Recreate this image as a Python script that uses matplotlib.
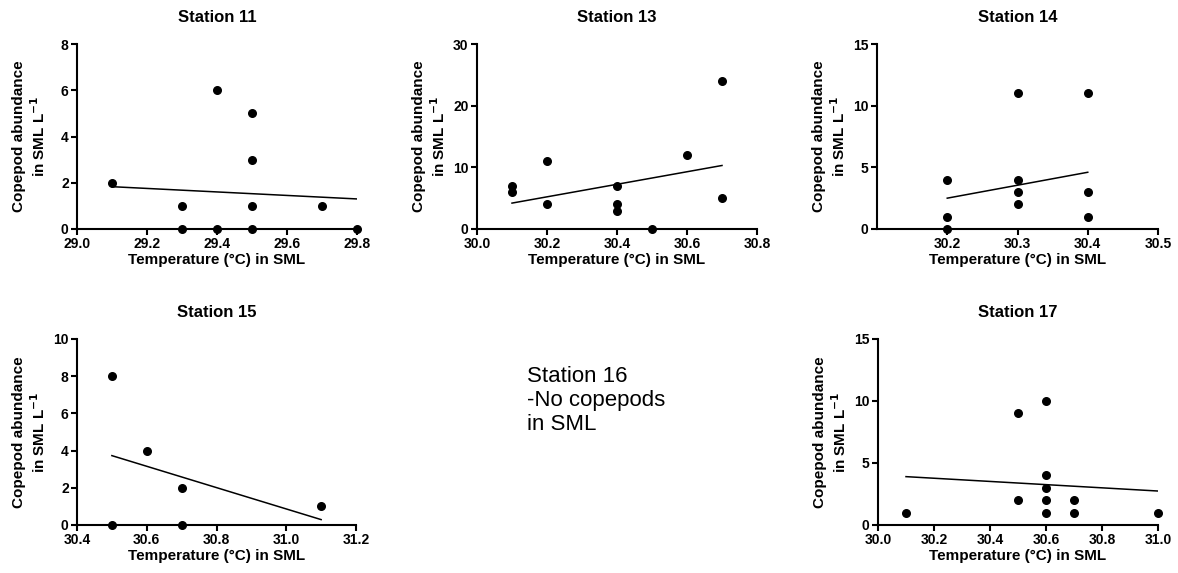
import matplotlib
matplotlib.use('Agg')
import matplotlib.pyplot as plt
import numpy as np

plt.rcParams['font.family'] = ['Liberation Sans', 'DejaVu Sans']

# Station data: temperature (°C) in SML and copepod abundance (ind. L-1)
st11_temp = [29.1, 29.3, 29.3, 29.4, 29.4, 29.5, 29.5, 29.5, 29.5, 29.7, 29.8]
st11_abun = [2, 1, 0, 6, 0, 5, 3, 1, 0, 1, 0]

st13_temp = [30.1, 30.1, 30.2, 30.2, 30.4, 30.4, 30.4, 30.5, 30.6, 30.7, 30.7]
st13_abun = [7, 6, 11, 4, 7, 4, 3, 0, 12, 24, 5]

st14_temp = [30.2, 30.2, 30.2, 30.3, 30.3, 30.3, 30.3, 30.4, 30.4, 30.4]
st14_abun = [4, 1, 0, 11, 4, 3, 2, 11, 3, 1]

st15_temp = [30.5, 30.5, 30.6, 30.7, 30.7, 31.1]
st15_abun = [8, 0, 4, 2, 0, 1]

st17_temp = [30.1, 30.5, 30.5, 30.6, 30.6, 30.6, 30.6, 30.6, 30.7, 30.7, 31.0]
st17_abun = [1, 9, 2, 10, 4, 3, 2, 1, 2, 1, 1]

# Regression line values (at min and max temperature)
st11_fit = [1.83, 1.30]
st13_fit = [4.2, 10.3]
st14_fit = [2.5, 4.6]
st15_fit = [3.73, 0.29]
st17_fit = [3.9, 2.74]

# Axis ranges and ticks
st11_xlim, st11_xticks = (29.0, 29.8), [29.0, 29.2, 29.4, 29.6, 29.8]
st13_xlim, st13_xticks = (30.0, 30.8), [30.0, 30.2, 30.4, 30.6, 30.8]
st14_xlim, st14_xticks = (30.1, 30.5), [30.2, 30.3, 30.4, 30.5]
st15_xlim, st15_xticks = (30.4, 31.2), [30.4, 30.6, 30.8, 31.0, 31.2]
st17_xlim, st17_xticks = (30.0, 31.0), [30.0, 30.2, 30.4, 30.6, 30.8, 31.0]

st11_yticks = [0, 2, 4, 6, 8]
st13_yticks = [0, 10, 20, 30]
st14_yticks = [0, 5, 10, 15]
st15_yticks = [0, 2, 4, 6, 8, 10]
st17_yticks = [0, 5, 10, 15]

W, H = 1178, 573
fig = plt.figure(figsize=(W / 100, H / 100), dpi=100)


def px_axes(left, right, top, bottom):
    return fig.add_axes([left / W, 1 - bottom / H, (right - left) / W, (bottom - top) / H])


def station_plot(ax, title, temp, abun, fit, xlim, xticks, yticks):
    ax.scatter(temp, abun, s=30, color='black', zorder=3, clip_on=False)
    ax.plot([min(temp), max(temp)], fit, color='black', lw=1.1)
    ax.set_xlim(*xlim)
    ax.set_ylim(yticks[0], yticks[-1])
    ax.set_xticks(xticks)
    ax.set_xticklabels(['%.1f' % t for t in xticks])
    ax.set_yticks(yticks)
    for side in ['top', 'right']:
        ax.spines[side].set_visible(False)
    for side in ['left', 'bottom']:
        ax.spines[side].set_linewidth(1.5)
    ax.tick_params(direction='out', length=4, width=1.5, labelsize=10, pad=2)
    for lab in ax.get_xticklabels() + ax.get_yticklabels():
        lab.set_fontweight('bold')
    ax.set_title(title, fontsize=12, fontweight='bold', pad=16)
    ax.set_xlabel('Temperature (°C) in SML', fontsize=11, fontweight='bold', labelpad=1)
    ax.set_ylabel('Copepod abundance\nin SML L$^{\\mathbf{-1}}$', fontsize=11,
                  fontweight='bold')
    w = ax.get_position().width * W
    ax.yaxis.set_label_coords(-29 / w, 0.5)


ax11 = px_axes(77, 357, 44, 229)
station_plot(ax11, 'Station 11', st11_temp, st11_abun, st11_fit, st11_xlim, st11_xticks, st11_yticks)

ax13 = px_axes(477, 757, 44, 229)
station_plot(ax13, 'Station 13', st13_temp, st13_abun, st13_fit, st13_xlim, st13_xticks, st13_yticks)

ax14 = px_axes(877, 1158, 44, 229)
station_plot(ax14, 'Station 14', st14_temp, st14_abun, st14_fit, st14_xlim, st14_xticks, st14_yticks)

ax15 = px_axes(77, 356, 339, 525)
station_plot(ax15, 'Station 15', st15_temp, st15_abun, st15_fit, st15_xlim, st15_xticks, st15_yticks)

ax17 = px_axes(878, 1158, 339, 525)
station_plot(ax17, 'Station 17', st17_temp, st17_abun, st17_fit, st17_xlim, st17_xticks, st17_yticks)

# Station 16 note
fig.text(527 / W, 1 - 366 / H, 'Station 16\n-No copepods\nin SML', fontsize=16,
         ha='left', va='top', linespacing=1.2)

fig.savefig('out.png', dpi=100)
